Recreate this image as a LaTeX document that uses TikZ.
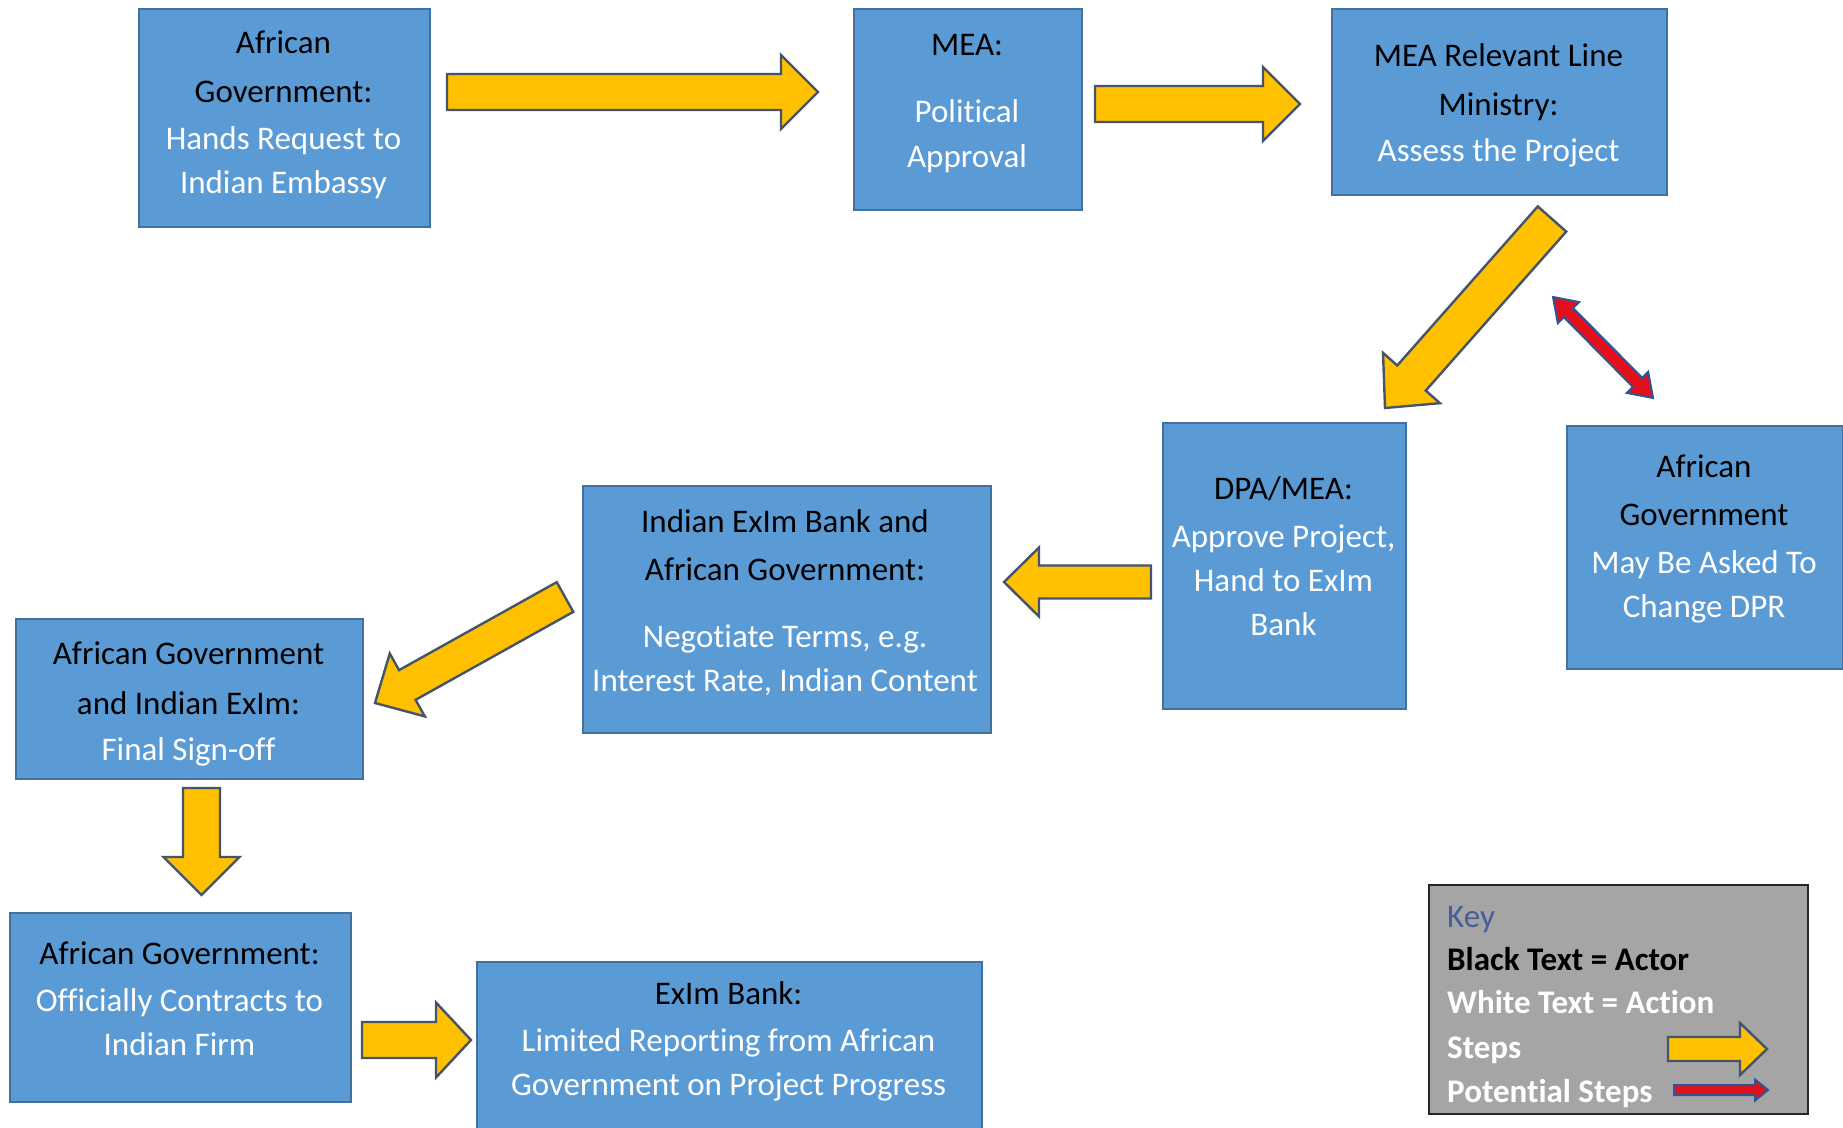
\documentclass[tikz,border=0pt]{standalone}
\usepackage{fontspec}
\setmainfont{Carlito}[Ligatures=NoCommon]
\usetikzlibrary{calc}
\definecolor{boxblue}{HTML}{5B9BD5}
\definecolor{boxedge}{HTML}{41719C}
\definecolor{arrowfill}{HTML}{FFC000}
\definecolor{arrowedge}{HTML}{44546A}
\definecolor{keygray}{HTML}{A5A5A5}
\definecolor{keyedge}{HTML}{262626}
\definecolor{keyblue}{HTML}{44609A}
\definecolor{potred}{HTML}{E3101C}
\definecolor{potedge}{HTML}{2F5597}
% #1 style, #2 tail, #3 tip, #4 shaft half width, #5 head half width, #6 head length
\newcommand\blockarrow[6][]{%
 \draw[steparrow,#1] ($(#2)!#4!90:(#3)$) -- ($(#3)!#6!(#2)!#4!-90:(#2)$) -- ($(#3)!#6!(#2)!#5!-90:(#2)$) -- (#3) -- ($(#3)!#6!(#2)!#5!90:(#2)$) -- ($(#3)!#6!(#2)!#4!90:(#2)$) -- ($(#2)!#4!-90:(#3)$) -- cycle;}
\newcommand\doublearrow[6][]{%
 \draw[steparrow,#1] (#2) -- ($(#2)!#6!(#3)!#5!90:(#3)$) -- ($(#2)!#6!(#3)!#4!90:(#3)$) -- ($(#3)!#6!(#2)!#4!-90:(#2)$) -- ($(#3)!#6!(#2)!#5!-90:(#2)$) -- (#3) -- ($(#3)!#6!(#2)!#5!90:(#2)$) -- ($(#3)!#6!(#2)!#4!90:(#2)$) -- ($(#2)!#6!(#3)!#4!-90:(#3)$) -- ($(#2)!#6!(#3)!#5!-90:(#3)$) -- cycle;}
\begin{document}
\begin{tikzpicture}[x=1pt,y=-1pt,
  box/.style={draw=boxedge, fill=boxblue, line width=2.2pt, inner sep=0pt, anchor=north west},
  keybox/.style={draw=keyedge, fill=keygray, line width=2pt, inner sep=0pt, anchor=north west},
  txt/.style={align=center, inner sep=0pt, text=black, font=\fontsize{33}{44}\selectfont},
  keytxt/.style={anchor=west, inner sep=0pt, text height=23pt, text depth=7pt, font=\fontsize{33}{44}\selectfont\bfseries},
  steparrow/.style={fill=arrowfill, draw=arrowedge, line width=2.4pt, line join=miter},
  potarrow/.style={fill=potred, draw=potedge, line width=2pt, line join=miter}]
\clip (0,0) rectangle (1843,1127);
\fill[white] (0,0) rectangle (1843,1127);

% boxes
\node[box, minimum width=291pt, minimum height=218pt] (b1) at (138,8) {};
\node[box, minimum width=228pt, minimum height=201pt] (b2) at (853,8) {};
\node[box, minimum width=335pt, minimum height=186pt] (b3) at (1331,8) {};
\node[box, minimum width=243pt, minimum height=286pt] (b4) at (1162,422) {};
\node[box, minimum width=276pt, minimum height=243pt] (b5) at (1566,425) {};
\node[box, minimum width=408pt, minimum height=247pt] (b6) at (582,485) {};
\node[box, minimum width=347pt, minimum height=160pt] (b7) at (15,618) {};
\node[box, minimum width=341pt, minimum height=189pt] (b8) at (9,912) {};
\node[box, minimum width=505pt, minimum height=180pt] (b9) at (476,961) {};
\node[keybox, minimum width=379pt, minimum height=229pt] (key) at (1428,884) {};

% box texts
\node[txt] (t1) at (283.5,115) {African\\[5.5pt]Government:\\[3pt]\textcolor{white}{Hands Request to}\\\textcolor{white}{Indian Embassy}};
\node[txt] (t2) at (967,103.5) {MEA:\\[23pt]\textcolor{white}{Political}\\[1pt]\textcolor{white}{Approval}};
\node[txt] (t3) at (1498.5,105) {MEA Relevant Line\\[5.5pt]Ministry:\\[1.5pt]\textcolor{white}{Assess the Project}};
\node[txt] (t4) at (1283.5,556.5) {DPA/MEA:\\[4pt]\textcolor{white}{Approve Project,}\\\textcolor{white}{Hand to ExIm}\\\textcolor{white}{Bank}};
\node[txt] (t5) at (1704,539) {African\\[4pt]Government\\[4pt]\textcolor{white}{May Be Asked To}\\\textcolor{white}{Change DPR}};
\node[txt] (t6) at (785,603) {Indian ExIm Bank and\\[4pt]African Government:\\[23pt]\textcolor{white}{Negotiate Terms, e.g.}\\\textcolor{white}{Interest Rate, Indian Content}};
\node[txt] (t7) at (188.5,703.5) {African Government\\[6pt]and Indian ExIm:\\[2pt]\textcolor{white}{Final Sign-off}};
\node[txt] (t8) at (179.5,999) {African Government:\\[3pt]\textcolor{white}{Officially Contracts to}\\\textcolor{white}{Indian Firm}};
\node[txt] (t9) at (728.5,1041.5) {ExIm Bank:\\[3pt]\textcolor{white}{Limited Reporting from African}\\\textcolor{white}{Government on Project Progress}};

% key texts
\node[keytxt, text=keyblue, font=\fontsize{33}{44}\selectfont] (k0) at (1447,919) {Key};
\node[keytxt, text=black] (k1) at (1447,962) {Black Text = Actor};
\node[keytxt, text=white] (k2) at (1447,1005) {White Text = Action};
\node[keytxt, text=white] (k3) at (1447,1050) {Steps};
\node[keytxt, text=white] (k4) at (1447,1094) {Potential Steps};

% arrow end points
\coordinate (a1s) at (447,92);   \coordinate (a1e) at (818,92);
\coordinate (a2s) at (1095,104); \coordinate (a2e) at (1300,104);
\coordinate (a3s) at (1552,219); \coordinate (a3e) at (1385,408);
\coordinate (a4s) at (1553,297); \coordinate (a4e) at (1653,398);
\coordinate (a5s) at (1151,582); \coordinate (a5e) at (1004,582);
\coordinate (a6s) at (565,597);  \coordinate (a6e) at (375,703);
\coordinate (a7s) at (201.5,788); \coordinate (a7e) at (201.5,895);
\coordinate (a8s) at (362,1040); \coordinate (a8e) at (471,1040);
\coordinate (ks) at (1668,1049); \coordinate (ke) at (1767,1049);
\coordinate (kps) at (1674,1090); \coordinate (kpe) at (1768,1090);

% step arrows
\blockarrow{a1s}{a1e}{18pt}{37pt}{37pt}
\blockarrow{a2s}{a2e}{18pt}{37pt}{37pt}
\blockarrow{a3s}{a3e}{19pt}{38pt}{40pt}
\blockarrow{a5s}{a5e}{16.5pt}{34.5pt}{35pt}
\blockarrow{a6s}{a6e}{17pt}{36pt}{37pt}
\blockarrow{a7s}{a7e}{18.5pt}{38pt}{38pt}
\blockarrow{a8s}{a8e}{18pt}{37.5pt}{35pt}
\doublearrow[potarrow]{a4s}{a4e}{6.5pt}{15pt}{22pt}
% key arrows
\blockarrow{ks}{ke}{12pt}{26pt}{27pt}
\blockarrow[potarrow]{kps}{kpe}{5pt}{10.5pt}{13pt}
\end{tikzpicture}
\end{document}
